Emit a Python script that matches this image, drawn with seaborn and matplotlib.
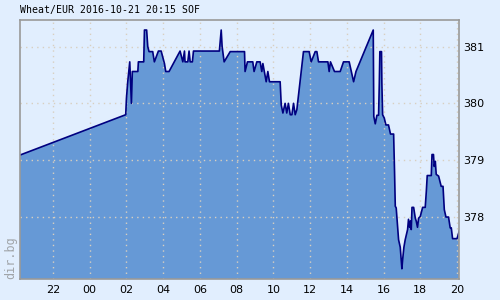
import matplotlib
matplotlib.use("Agg")
import matplotlib.pyplot as plt
import seaborn as sns
import pandas as pd

# hours since 2016-10-20 00:00
hours = [20.20, 25.96, 26.00, 26.07, 26.18, 26.27, 26.32, 26.62, 26.65, 26.94,
         26.98, 27.10, 27.16, 27.23, 27.43, 27.52, 27.74, 27.89, 28.07, 28.14,
         28.32, 28.92, 29.07, 29.16, 29.19, 29.34, 29.41, 29.47, 29.59, 29.65,
         31.06, 31.16, 31.21, 31.32, 31.65, 32.43, 32.46, 32.59, 32.88, 32.95,
         33.10, 33.28, 33.37, 33.43, 33.61, 33.70, 33.79, 34.37, 34.43, 34.52,
         34.64, 34.73, 34.82, 34.92, 35.01, 35.10, 35.19, 35.28, 35.64, 35.95,
         36.06, 36.28, 36.37, 36.46, 36.97, 37.04, 37.11, 37.33, 37.64, 37.82,
         38.13, 38.37, 38.50, 39.44, 39.47, 39.55, 39.64, 39.73, 39.77, 39.80,
         39.89, 39.91, 39.95, 40.04, 40.13, 40.27, 40.38, 40.55, 40.60, 40.64,
         40.69, 40.82, 40.91, 40.96, 41.00, 41.04, 41.11, 41.18, 41.31, 41.36,
         41.42, 41.46, 41.51, 41.55, 41.64, 41.73, 41.78, 41.85, 41.91, 42.00,
         42.13, 42.27, 42.33, 42.38, 42.60, 42.64, 42.72, 42.76, 42.82, 42.87,
         43.00, 43.14, 43.24, 43.31, 43.40, 43.54, 43.63, 43.69, 43.76, 44.00,
         44.05, 44.13]
prices = [379.09, 379.80, 380.09, 380.38, 380.73, 380.00, 380.56, 380.56, 380.73, 380.73,
          381.29, 381.29, 381.00, 380.91, 380.91, 380.73, 380.92, 380.92, 380.70, 380.56,
          380.56, 380.92, 380.73, 380.92, 380.73, 380.73, 380.92, 380.73, 380.73, 380.92,
          380.92, 381.29, 381.00, 380.73, 380.91, 380.91, 380.56, 380.73, 380.73, 380.56,
          380.73, 380.73, 380.56, 380.70, 380.38, 380.56, 380.38, 380.38, 379.97, 379.83,
          380.00, 379.83, 380.00, 379.80, 379.80, 380.00, 379.80, 379.89, 380.91, 380.91,
          380.73, 380.91, 380.91, 380.73, 380.73, 380.56, 380.73, 380.56, 380.56, 380.73,
          380.73, 380.38, 380.56, 381.29, 379.77, 379.64, 379.79, 379.79, 380.35, 380.91,
          380.91, 380.35, 379.80, 379.74, 379.62, 379.62, 379.46, 379.46, 378.80, 378.19,
          378.16, 377.60, 377.47, 377.25, 377.09, 377.25, 377.47, 377.60, 377.78, 377.96,
          377.82, 377.93, 377.78, 378.17, 378.17, 377.98, 377.93, 377.82, 377.98, 378.01,
          378.17, 378.17, 378.45, 378.73, 378.73, 379.10, 379.10, 378.89, 378.98, 378.75,
          378.72, 378.54, 378.54, 378.13, 378.00, 378.00, 377.81, 377.81, 377.62, 377.62,
          377.67, 377.76]

x_ticks = [22, 24, 26, 28, 30, 32, 34, 36, 38, 40, 42, 44]
x_labels = ["22", "00", "02", "04", "06", "08", "10", "12", "14", "16", "18", "20"]
y_ticks = [378, 379, 380, 381]
y_labels = ["378", "379", "380", "381"]
title = "Wheat/EUR 2016-10-21 20:15 SOF"

df = pd.DataFrame({"h": hours, "p": prices})

bg = "#E1EEFE"
fig = plt.figure(figsize=(5, 3), dpi=100, facecolor=bg)
ax = fig.add_axes([0.04, 0.07, 0.878, 0.8633])
ax.set_facecolor(bg)

ymin, ymax = 376.91, 381.466
ax.fill_between(df["h"], df["p"], ymin - 1, color="#6699D6", lw=0, zorder=1)
sns.lineplot(data=df, x="h", y="p", ax=ax, color="#000080", lw=1.2, zorder=3,
             estimator=None, sort=False)

ax.set_xlim(20.203, 44.11)
ax.set_ylim(ymin, ymax)
ax.set_xticks(x_ticks)
ax.set_xticklabels(x_labels)
ax.set_yticks(y_ticks)
ax.set_yticklabels(y_labels)
ax.yaxis.tick_right()
ax.tick_params(axis="both", length=0, labelsize=8, colors="black")
ax.tick_params(axis="x", pad=4)
ax.tick_params(axis="y", pad=3)
ax.set_xlabel("")
ax.set_ylabel("")
ax.grid(True, color="#D8CFC0", linestyle=(0, (1, 3)), linewidth=1, zorder=2)
ax.set_axisbelow(False)
for s in ax.spines.values():
    s.set_color("#999999")
    s.set_linewidth(1.2)
    s.set_zorder(5)

fig.text(0.04, 0.968, title, family="DejaVu Sans Mono", fontsize=7.1,
         ha="left", va="center", color="black")
fig.text(0.022, 0.14, "dir.bg", rotation=90, fontsize=8.5, color="#A0A4A8",
         family="DejaVu Sans Mono", ha="center", va="center")

fig.savefig("out.png", dpi=100, facecolor=bg)
